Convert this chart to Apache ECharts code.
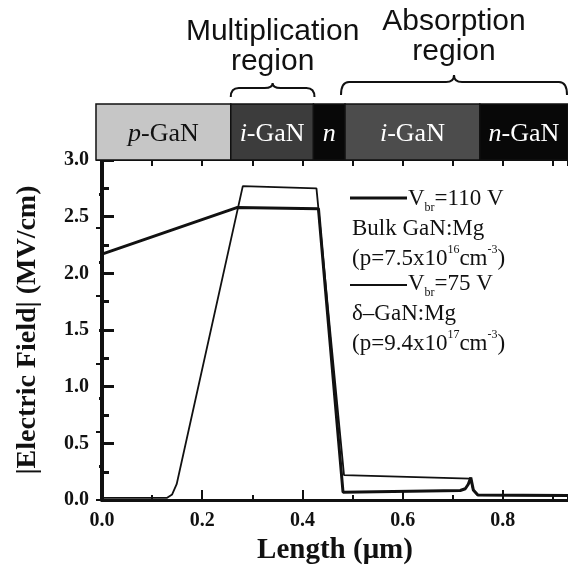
<!DOCTYPE html>
<html>
<head>
<meta charset="utf-8">
<script src="https://cdn.jsdelivr.net/npm/echarts@6/dist/echarts.min.js"></script>
<style>
html, body { margin: 0; padding: 0; background: #fff; }
#chart { width: 568px; height: 570px; }
</style>
</head>
<body>
<div id="chart"></div>
<script>
// field profiles: x in um, |E| in MV/cm
const bulkX     = [0, 0.269, 0.432, 0.481, 0.715, 0.725, 0.731, 0.736, 0.741, 0.75, 0.93];
const bulkField = [2.17, 2.58, 2.57, 0.07, 0.085, 0.10, 0.14, 0.20, 0.09, 0.045, 0.04];

const deltaX     = [0, 0.13, 0.14, 0.149, 0.281, 0.428, 0.483, 0.735, 0.741, 0.75, 0.93];
const deltaField = [0.02, 0.02, 0.05, 0.14, 2.77, 2.75, 0.22, 0.19, 0.09, 0.045, 0.04];

// layer stack drawn above the plot
const layerNames = ['p-GaN', 'i-GaN', 'n', 'i-GaN', 'n-GaN'];
const layerStart = [-0.012, 0.257, 0.422, 0.485, 0.754];
const layerEnd   = [0.257, 0.422, 0.485, 0.754, 0.93];

// bracketed regions
const regionNames = ['Multiplication\nregion', 'Absorption\nregion'];
const regionStart = [0.257, 0.477];
const regionEnd   = [0.424, 0.928];

const xTicks = [0, 0.2, 0.4, 0.6, 0.8];
const yTicks = [0, 0.5, 1.0, 1.5, 2.0, 2.5, 3.0];

const layerFill = ['#c6c6c6', '#3c3c3c', '#080808', '#4c4c4c', '#080808'];
const layerInk  = ['#111', '#fff', '#fff', '#fff', '#fff'];
// per region: [flat line above grid top, tip rise, end drop, text centre above grid top]
const braceGeom = [[72, 5, 9, 113], [78, 7, 13, 123]];

const SERIF = '"Liberation Serif", "Times New Roman", serif';
const SANS = '"Liberation Sans", Arial, sans-serif';

const zip = (xs, ys) => xs.map((x, i) => [x, ys[i]]);

const chart = echarts.init(document.getElementById('chart'));

function richLine(size) {
    return {
        n: { fontSize: size, fontFamily: SERIF, lineHeight: 30 },
        sub: { fontSize: 12, fontFamily: SERIF, lineHeight: 12, verticalAlign: 'bottom' },
        sup: { fontSize: 12, fontFamily: SERIF, lineHeight: 14, verticalAlign: 'top' }
    };
}

function legendText(x, y, text) {
    return {
        type: 'text', x: x, y: y,
        style: {
            text: text, fill: '#111', fontSize: 23, fontFamily: SERIF,
            verticalAlign: 'middle', rich: richLine(23)
        }
    };
}

chart.setOption({
    animation: false,
    backgroundColor: '#fff',
    grid: { left: 102, right: -4, top: 160, bottom: 57 },
    xAxis: [
        {
            type: 'value', position: 'bottom', min: 0, max: 0.93, interval: 0.2,
            name: 'Length (μm)', nameLocation: 'middle', nameGap: 25,
            nameTextStyle: { fontFamily: SERIF, fontWeight: 'bold', fontSize: 29, color: '#111' },
            axisLine: { lineStyle: { color: '#111', width: 3 } },
            axisTick: { inside: true, length: 10, lineStyle: { color: '#111', width: 2 } },
            axisLabel: {
                margin: 11, showMaxLabel: false, color: '#111',
                fontFamily: SERIF, fontWeight: 'bold', fontSize: 20,
                formatter: v => xTicks.some(t => Math.abs(t - v) < 1e-6) ? v.toFixed(1) : ''
            },
            splitLine: { show: false }
        },
        {
            type: 'value', position: 'bottom', min: 0, max: 0.93, interval: 0.1,
            axisLine: { show: false },
            axisTick: { inside: true, length: 5, lineStyle: { color: '#111', width: 2 } },
            axisLabel: { show: false },
            splitLine: { show: false }
        },
        {
            type: 'value', position: 'top', min: 0, max: 0.93, interval: 0.1,
            axisLine: { lineStyle: { color: '#111', width: 2 } },
            axisTick: { inside: true, length: 6, lineStyle: { color: '#111', width: 2 } },
            axisLabel: { show: false },
            splitLine: { show: false }
        }
    ],
    yAxis: [
        {
            type: 'value', position: 'left', min: 0, max: 3, interval: 0.5,
            name: '|Electric Field| (MV/cm)', nameLocation: 'middle', nameGap: 60,
            nameTextStyle: { fontFamily: SERIF, fontWeight: 'bold', fontSize: 28, color: '#111' },
            axisLine: { lineStyle: { color: '#111', width: 4 } },
            axisTick: { inside: true, length: 12, lineStyle: { color: '#111', width: 3 } },
            minorTick: { show: true, splitNumber: 2, length: 7, lineStyle: { color: '#111', width: 3 } },
            axisLabel: {
                margin: 13, color: '#111',
                fontFamily: SERIF, fontWeight: 'bold', fontSize: 20,
                formatter: v => yTicks.some(t => Math.abs(t - v) < 1e-6) ? v.toFixed(1) : ''
            },
            splitLine: { show: false }
        },
        {
            type: 'value', position: 'right', min: 0, max: 10, interval: 2,
            axisLine: { lineStyle: { color: '#111', width: 3 } },
            axisTick: { inside: true, length: 6, lineStyle: { color: '#111', width: 2 } },
            minorTick: { show: true, splitNumber: 2, length: 3, lineStyle: { color: '#111', width: 3 } },
            axisLabel: { show: false },
            splitLine: { show: false }
        }
    ],
    series: [
        {
            name: 'delta', type: 'line', showSymbol: false, silent: true,
            data: zip(deltaX, deltaField),
            lineStyle: { color: '#111', width: 1.8 }
        },
        {
            name: 'bulk', type: 'line', showSymbol: false, silent: true,
            data: zip(bulkX, bulkField),
            lineStyle: { color: '#111', width: 3 }
        },
        {
            name: 'layers', type: 'custom', clip: false, silent: true,
            data: layerNames.map((n, i) => [layerStart[i], layerEnd[i], i]),
            renderItem: function (params, api) {
                const i = api.value(2);
                const x0 = api.coord([api.value(0), 0])[0];
                const x1 = api.coord([api.value(1), 0])[0];
                const top = params.coordSys.y;
                const name = layerNames[i];
                const rich = {
                    it: { fontSize: 26, fontFamily: SERIF, fontStyle: 'italic' },
                    rm: { fontSize: 26, fontFamily: SERIF }
                };
                return {
                    type: 'group',
                    children: [
                        {
                            type: 'rect',
                            shape: { x: x0, y: top - 56, width: x1 - x0, height: 56 },
                            style: { fill: layerFill[i], stroke: '#111', lineWidth: 1.5 }
                        },
                        {
                            type: 'text', x: (x0 + x1) / 2, y: top - 26,
                            style: {
                                text: '{it|' + name[0] + '}{rm|' + name.slice(1) + '}',
                                rich: rich, fill: layerInk[i], fontSize: 26, fontFamily: SERIF,
                                align: 'center', verticalAlign: 'middle'
                            }
                        }
                    ]
                };
            }
        },
        {
            name: 'regions', type: 'custom', clip: false, silent: true,
            data: regionNames.map((n, i) => [regionStart[i], regionEnd[i], i]),
            renderItem: function (params, api) {
                const i = api.value(2);
                const xa = api.coord([api.value(0), 0])[0];
                const xb = api.coord([api.value(1), 0])[0];
                const top = params.coordSys.y;
                const g = braceGeom[i];
                const yf = top - g[0], yt = yf - g[1], ye = yf + g[2];
                const m = (xa + xb) / 2, r = 8;
                const d = 'M' + xa + ' ' + ye + ' Q' + xa + ' ' + yf + ' ' + (xa + r) + ' ' + yf +
                    ' L' + (m - r) + ' ' + yf + ' Q' + m + ' ' + yf + ' ' + m + ' ' + yt +
                    ' Q' + m + ' ' + yf + ' ' + (m + r) + ' ' + yf +
                    ' L' + (xb - r) + ' ' + yf + ' Q' + xb + ' ' + yf + ' ' + xb + ' ' + ye;
                return {
                    type: 'group',
                    children: [
                        {
                            type: 'path', shape: { pathData: d },
                            style: { fill: 'none', stroke: '#111', lineWidth: 2 }
                        },
                        {
                            type: 'text', x: m, y: top - g[3],
                            style: {
                                text: regionNames[i], fill: '#111', fontSize: 30, fontFamily: SANS,
                                lineHeight: 30, align: 'center', verticalAlign: 'middle'
                            }
                        }
                    ]
                };
            }
        }
    ],
    graphic: [
        { type: 'line', shape: { x1: 350, y1: 198, x2: 407, y2: 198 }, style: { stroke: '#111', lineWidth: 3 } },
        legendText(408, 199, '{n|V}{sub|br}{n|=110 V}'),
        legendText(352, 229, '{n|Bulk GaN:Mg}'),
        legendText(352, 259, '{n|(p=7.5x10}{sup|16}{n|cm}{sup|-3}{n|)}'),
        { type: 'line', shape: { x1: 350, y1: 285, x2: 407, y2: 285 }, style: { stroke: '#111', lineWidth: 2 } },
        legendText(408, 284, '{n|V}{sub|br}{n|=75 V}'),
        legendText(352, 314, '{n|δ–GaN:Mg}'),
        legendText(352, 344, '{n|(p=9.4x10}{sup|17}{n|cm}{sup|-3}{n|)}')
    ]
});
</script>
</body>
</html>
